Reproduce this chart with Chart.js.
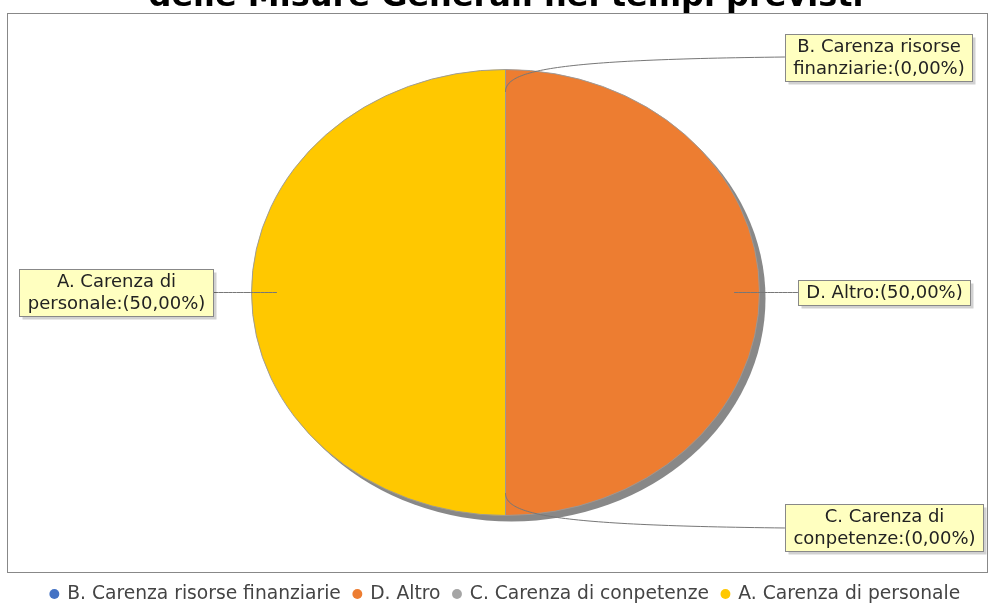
<!DOCTYPE html>
<html>
<head>
<meta charset="utf-8">
<script src="https://cdn.jsdelivr.net/npm/chart.js@4.4.0/dist/chart.umd.min.js"></script>
<style>
    html, body { margin: 0; padding: 0; background: #fff; }
    #wrap { width: 992px; height: 603px; position: relative; }
</style>
</head>
<body>
<div id="wrap"><canvas id="pie-chart"></canvas></div>
<script>
    // Chart data
    const titleText = 'delle Misure Generali nei tempi previsti';
    const categories = [
        'B. Carenza risorse finanziarie',
        'D. Altro',
        'C. Carenza di conpetenze',
        'A. Carenza di personale'
    ];
    const counts = [0, 1, 0, 1];

    // Styles
    const sliceColors = ['#4472C4', '#ED7D31', '#A5A5A5', '#FFC800'];
    const FONT = '"DejaVu Sans", sans-serif';
    const PIE_RADIUS = 254;
    const PIE_ASPECT = 223 / 254;   // pie is drawn as an ellipse
    const SHADOW_OFFSET = 6;

    const total = counts.reduce((a, b) => a + b, 0);
    const pct = (v) => (v / total * 100).toFixed(2).replace('.', ',') + '%';

    function wrapText(ctx, text, maxWidth) {
        const words = text.split(' ');
        const lines = [];
        let line = '';
        words.forEach(function(w) {
            const test = line ? line + ' ' + w : w;
            if (line && ctx.measureText(test).width > maxWidth) {
                lines.push(line);
                line = w;
            } else {
                line = test;
            }
        });
        if (line) lines.push(line);
        return lines;
    }

    function pieGeometry(chart) {
        const meta = chart.getDatasetMeta(0);
        const first = meta.data[0];
        return {
            cx: first.x,
            cy: first.y,
            rx: first.outerRadius,
            ry: first.outerRadius * PIE_ASPECT,
            arcs: meta.data
        };
    }

    // Background, plot outline and (clipped) title
    const framePlugin = {
        id: 'frame',
        beforeDraw: function(chart) {
            const ctx = chart.ctx;
            ctx.save();
            ctx.fillStyle = '#fff';
            ctx.fillRect(0, 0, chart.width, chart.height);
            ctx.strokeStyle = '#888';
            ctx.lineWidth = 1;
            ctx.strokeRect(7.5, 13.5, 980, 559);
            ctx.fillStyle = '#000';
            ctx.font = 'bold 32px ' + FONT;
            ctx.textAlign = 'center';
            ctx.textBaseline = 'alphabetic';
            ctx.fillText(titleText, 506, 6);
            ctx.restore();
        }
    };

    // Squash the pie into an ellipse, add shadow and the label boxes
    const ellipsePlugin = {
        id: 'ellipse',
        beforeDatasetsDraw: function(chart) {
            const ctx = chart.ctx;
            const g = pieGeometry(chart);
            ctx.save();
            ctx.fillStyle = '#888';
            ctx.beginPath();
            ctx.ellipse(g.cx + SHADOW_OFFSET, g.cy + SHADOW_OFFSET, g.rx, g.ry, 0, 0, Math.PI * 2);
            ctx.fill();
            ctx.restore();

            ctx.save();
            ctx.translate(g.cx, g.cy);
            ctx.scale(1, PIE_ASPECT);
            ctx.translate(-g.cx, -g.cy);
        },
        afterDatasetsDraw: function(chart) {
            const ctx = chart.ctx;
            ctx.restore();

            const g = pieGeometry(chart);
            ctx.save();
            ctx.font = '18px ' + FONT;

            g.arcs.forEach(function(arc, i) {
                const mid = (arc.startAngle + arc.endAngle) / 2;
                const cos = Math.cos(mid);
                const sin = Math.sin(mid);
                const right = cos > -1e-9;

                const anchor = { x: g.cx + 0.9 * g.rx * cos, y: g.cy + 0.9 * g.ry * sin };
                const edge = { x: g.cx + g.rx * cos, y: g.cy + g.ry * sin };
                const gap = g.rx * 1.1 + 13 * Math.abs(cos);
                const linkX = right ? g.cx + gap : g.cx - gap;
                const linkY = g.cy + g.ry * 1.056 * sin;

                // link line
                ctx.strokeStyle = '#777';
                ctx.lineWidth = 1;
                ctx.beginPath();
                ctx.moveTo(anchor.x, anchor.y);
                ctx.bezierCurveTo(edge.x, edge.y,
                    edge.x + 0.2 * (linkX - edge.x), edge.y + 0.8 * (linkY - edge.y),
                    linkX, linkY);
                ctx.stroke();

                // label box
                const lines = wrapText(ctx, categories[i] + ':(' + pct(counts[i]) + ')', 190);
                const textW = Math.max.apply(null, lines.map(function(l) { return ctx.measureText(l).width; }));
                const boxW = Math.round(textW + 16);
                const boxH = lines.length * 22 + 3;
                const boxX = Math.round(right ? linkX : linkX - boxW) + 0.5;
                const boxY = Math.round(linkY - boxH / 2) + 0.5;

                ctx.fillStyle = 'rgba(0,0,0,0.18)';
                ctx.fillRect(boxX + 3, boxY + 3, boxW, boxH);
                ctx.fillStyle = '#FFFFC0';
                ctx.fillRect(boxX, boxY, boxW, boxH);
                ctx.strokeStyle = '#888';
                ctx.strokeRect(boxX, boxY, boxW, boxH);

                ctx.fillStyle = '#222';
                ctx.textAlign = 'center';
                ctx.textBaseline = 'middle';
                lines.forEach(function(l, k) {
                    ctx.fillText(l, boxX + boxW / 2, boxY + 1.5 + 11 + k * 22);
                });
            });
            ctx.restore();
        }
    };

    new Chart(document.getElementById('pie-chart'), {
        type: 'pie',
        data: {
            labels: categories,
            datasets: [{
                data: counts,
                backgroundColor: sliceColors,
                borderColor: '#999',
                borderWidth: 1,
                radius: PIE_RADIUS,
                hoverOffset: 0
            }]
        },
        options: {
            responsive: true,
            maintainAspectRatio: false,
            animation: false,
            events: [],
            layout: {
                padding: { top: 13.35, bottom: -10.35, left: 19, right: 0 }
            },
            plugins: {
                title: { display: false },
                tooltip: { enabled: false },
                legend: {
                    display: true,
                    position: 'bottom',
                    labels: {
                        usePointStyle: true,
                        boxWidth: 7,
                        boxHeight: 7,
                        padding: 13,
                        color: '#444',
                        font: { family: FONT, size: 18.7 },
                        generateLabels: function() {
                            return categories.map(function(name, i) {
                                return {
                                    text: name,
                                    fillStyle: sliceColors[i],
                                    strokeStyle: sliceColors[i],
                                    lineWidth: 0,
                                    pointStyle: 'circle',
                                    fontColor: '#444',
                                    hidden: false,
                                    index: i
                                };
                            });
                        }
                    }
                }
            }
        },
        plugins: [framePlugin, ellipsePlugin]
    });
</script>
</body>
</html>
